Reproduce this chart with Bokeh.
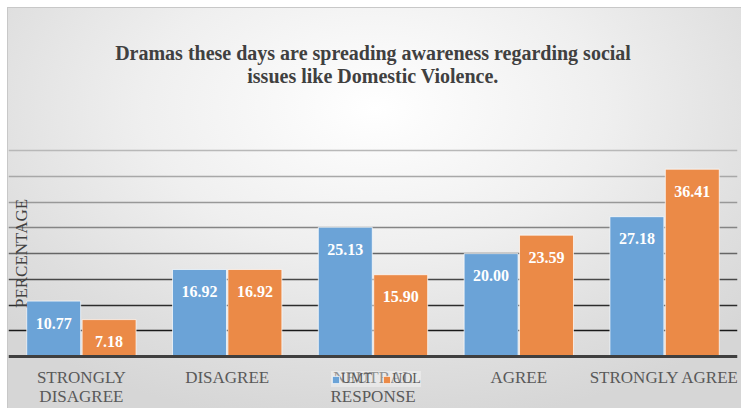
import math
from bokeh.plotting import figure
from bokeh.models import ColumnDataSource, FactorRange, Label, FixedTicker, Grid
from bokeh.transform import dodge
from bokeh.embed import file_html
from bokeh.resources import INLINE
from bokeh.core.properties import value

# ---------------- data ----------------
categories = ["STRONGLY\nDISAGREE", "DISAGREE", "NEUTRAL\nRESPONSE", "AGREE", "STRONGLY AGREE"]
series_names = ["UMT", "UOL"]
umt = [10.77, 16.92, 25.13, 20.00, 27.18]
uol = [7.18, 16.92, 15.90, 23.59, 36.41]
grid_values = [5, 10, 15, 20, 25, 30, 35, 40]
title_lines = ["Dramas these days are spreading awareness regarding social",
               "issues like Domestic Violence."]
y_title = "PERCENTAGE"

# ---------------- style ----------------
SERIF = "Liberation Serif"
BLUE = "#6ba3d7"
ORANGE = "#eb8a47"
grid_colors = ["#1a1a1a", "#2c2c2c", "#474747", "#666666", "#858585", "#989898", "#a8a8a8", "#b8b8b8"]

src = ColumnDataSource(dict(
    cat=categories, umt=umt, uol=uol,
    umt_lbl=[f"{v:.2f}" for v in umt],
    uol_lbl=[f"{v:.2f}" for v in uol],
))

# the frame covers the whole chart box so that title, category labels and legend
# (all drawn inside it) are not clipped; grid lines only span 5..40
p = figure(x_range=FactorRange(*categories), y_range=(-10.1, 69.2),
           width=741, height=408, output_backend="svg", toolbar_location=None,
           min_border_left=8, min_border_right=4, min_border_top=0, min_border_bottom=0)
p.title.visible = False

p.background_fill_color = None
p.border_fill_color = None
p.outline_line_color = None
p.styles = {
    "background": (
        "linear-gradient(#c8c8c8,#c8c8c8) 7px 7px / calc(100% - 7px) 1px no-repeat, "
        "linear-gradient(#c8c8c8,#c8c8c8) 7px 7px / 1px calc(100% - 7px) no-repeat, "
        "radial-gradient(ellipse 70% 80% at 50% 25%, #ffffff 0%, #efefef 45%, #dedede 80%, #d6d6d6 100%) "
        "8px 8px / calc(100% - 8px) calc(100% - 8px) no-repeat, #ffffff"
    )
}

# title (two centred lines)
for i, line in enumerate(title_lines):
    p.add_layout(Label(x=364.5, y=356 - 23 * i, x_units="screen", y_units="screen", text=line,
                       text_font=SERIF, text_font_style="bold", text_font_size="20px",
                       text_color="#404040", text_align="center", text_baseline="middle"))

# grid lines
p.xgrid.visible = False
p.ygrid.visible = False
for v, c in zip(grid_values, grid_colors):
    p.add_layout(Grid(dimension=1, ticker=FixedTicker(ticks=[v]),
                      grid_line_color=c, grid_line_width=1.7))

# axes
p.yaxis.visible = False
ax = p.xaxis[0]
ax.fixed_location = 0
ax.axis_line_color = "#3f3f3f"
ax.axis_line_width = 3
ax.major_tick_line_color = None
ax.minor_tick_line_color = None
ax.major_label_text_font = SERIF
ax.major_label_text_font_size = "17px"
ax.major_label_text_color = "#595959"
ax.major_label_text_line_height = 1.0
ax.major_label_standoff = 5

# bars
p.vbar(x=dodge("cat", -0.19, range=p.x_range), top="umt", width=0.37, source=src,
       fill_color=BLUE, line_color="white", line_alpha=0.7, legend_label=series_names[0])
p.vbar(x=dodge("cat", 0.19, range=p.x_range), top="uol", width=0.37, source=src,
       fill_color=ORANGE, line_color="white", line_alpha=0.7, legend_label=series_names[1])

# value labels
for off, col, lbl in [(-0.19, "umt", "umt_lbl"), (0.19, "uol", "uol_lbl")]:
    p.text(x=dodge("cat", off, range=p.x_range), y=col, text=lbl, source=src,
           text_font=value(SERIF), text_font_style="bold", text_font_size="16px",
           text_color="white", text_align="center", text_baseline="middle", y_offset=22)

# y title
p.add_layout(Label(x=13, y=155, x_units="screen", y_units="screen", text=y_title,
                   angle=math.pi / 2, text_font=SERIF, text_font_size="17px",
                   text_color="#404040", text_align="center", text_baseline="middle"))

# legend
lg = p.legend[0]
lg.orientation = "horizontal"
lg.location = (323, 21)
lg.background_fill_color = "white"
lg.background_fill_alpha = 0.35
lg.border_line_color = None
lg.label_text_font = SERIF
lg.label_text_font_size = "14px"
lg.label_text_color = "#595959"
lg.label_height = 16
lg.glyph_width = 9
lg.glyph_height = 9
lg.label_standoff = 1
lg.spacing = 10
lg.padding = 6
lg.margin = 0

open("out.html", "w").write(file_html(p, INLINE))
